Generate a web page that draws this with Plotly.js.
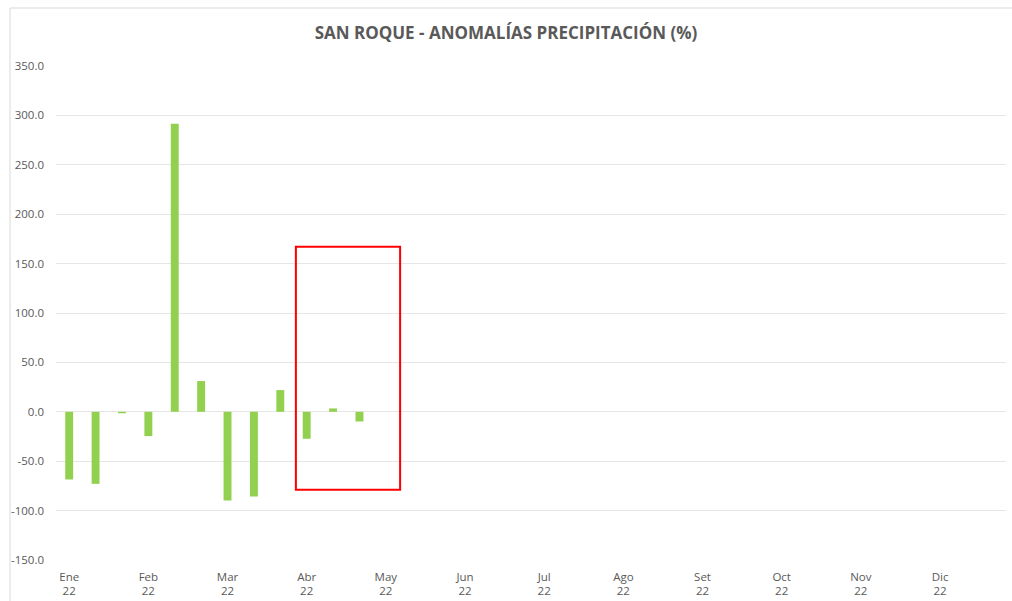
<!DOCTYPE html>
<html>
<head>
<meta charset="utf-8">
<script src="https://cdn.plot.ly/plotly-3.0.1.min.js"></script>
<style>html,body{margin:0;padding:0;background:#fff;}#chart{width:1012px;height:601px;}</style>
</head>
<body>
<div id="chart"></div>
<script>
// Dekadal slots: 3 per month, Jan-Dec 2022
const months = ['Ene','Feb','Mar','Abr','May','Jun','Jul','Ago','Set','Oct','Nov','Dic'];
const yearLabel = '22';
const anomalies = [-68.5, -72.9, -1.5, -24.6, 291.5, 31.1, -89.8, -85.7, 22.0, -27.3, 3.4, -9.8];
const yTickVals = [-150, -100, -50, 0, 50, 100, 150, 200, 250, 300, 350];
const yTickText = ['-150.0','-100.0','-50.0','0.0','50.0','100.0','150.0','200.0','250.0','300.0','350.0'];
const slotsPerMonth = 3;

const xIdx = anomalies.map((v, i) => i);
const tickVals = months.map((m, i) => i * slotsPerMonth);
const tickText = months.map(m => m + '<br>' + yearLabel);

const trace = {
  type: 'bar',
  x: xIdx,
  y: anomalies,
  marker: {color: '#92D050'},
  hoverinfo: 'x+y'
};

const layout = {
  width: 1012, height: 601,
  margin: {l: 56, r: 6, t: 66, b: 41},
  paper_bgcolor: '#ffffff',
  plot_bgcolor: '#ffffff',
  showlegend: false,
  bargap: 0.7,
  font: {family: 'Open Sans, sans-serif', color: '#595959', size: 11},
  title: {
    text: '<b>SAN ROQUE - ANOMALÍAS PRECIPITACIÓN (%)</b>',
    font: {family: 'Open Sans, sans-serif', size: 17, color: '#595959'},
    x: 0.5, xanchor: 'center', y: 0.945, yanchor: 'middle'
  },
  xaxis: {
    range: [-0.5, months.length * slotsPerMonth - 0.5],
    tickmode: 'array', tickvals: tickVals, ticktext: tickText,
    showgrid: false, zeroline: false, showline: false, ticks: '',
    ticklabelstandoff: 8,
    tickfont: {size: 11.5, color: '#595959'}
  },
  yaxis: {
    range: [-150, 350],
    tickmode: 'array', tickvals: yTickVals, ticktext: yTickText,
    showgrid: true, gridcolor: '#e6e6e6', gridwidth: 1,
    zeroline: false, showline: false, ticks: '',
    ticklabelstandoff: 11,
    tickfont: {size: 11.5, color: '#595959'}
  },
  shapes: [
    {type: 'rect', xref: 'x', yref: 'y', x0: 8.59, x1: 12.54, y0: -79, y1: 167,
     line: {color: '#ff0000', width: 2}, fillcolor: 'rgba(0,0,0,0)'},
    {type: 'line', xref: 'paper', yref: 'paper', x0: -0.0484, x1: -0.0484, y0: -0.1, y1: 1.1174,
     line: {color: '#d9d9d9', width: 1}},
    {type: 'line', xref: 'paper', yref: 'paper', x0: -0.0484, x1: 1.01, y0: 1.1174, y1: 1.1174,
     line: {color: '#d9d9d9', width: 1}}
  ]
};

Plotly.newPlot('chart', [trace], layout, {displayModeBar: false, staticPlot: true});
</script>
</body>
</html>
